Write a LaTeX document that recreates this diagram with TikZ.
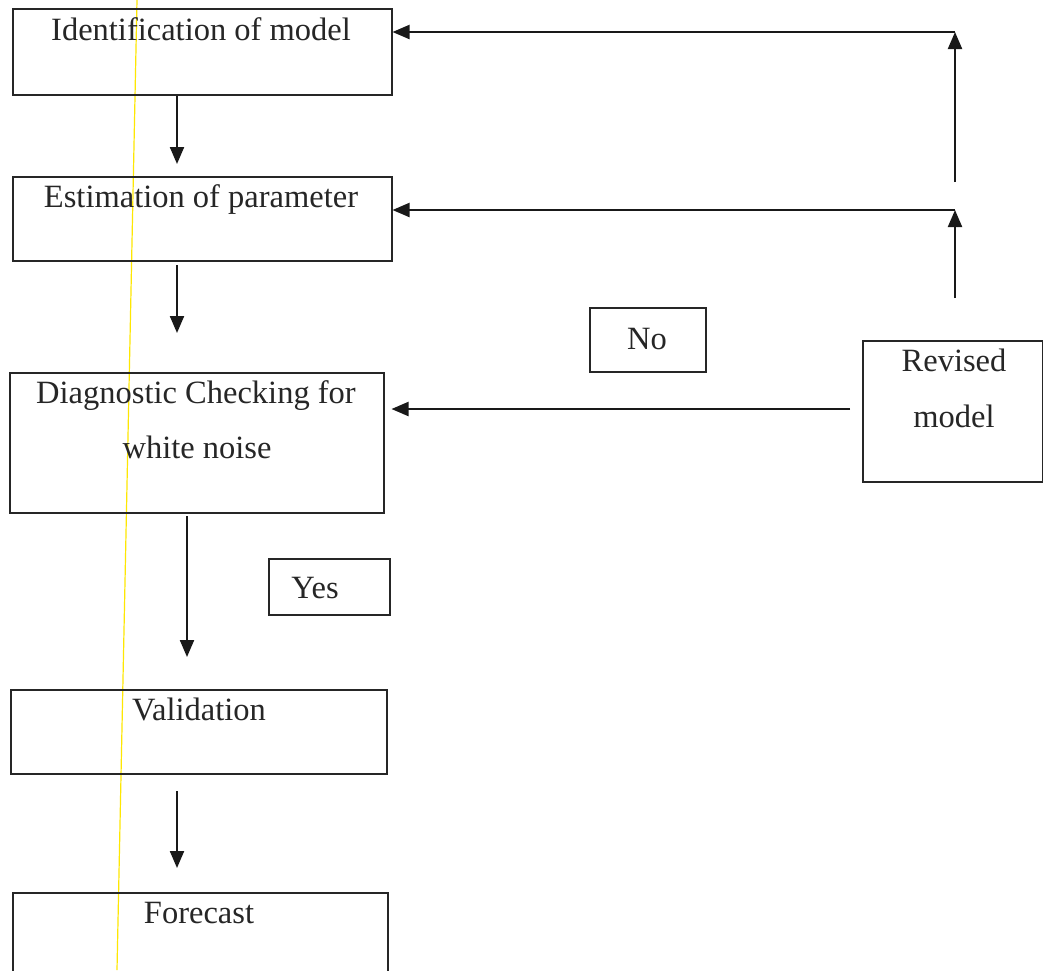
\documentclass[tikz,border=0pt]{standalone}
\usepackage{fontspec}
\setmainfont{Liberation Serif}
\usetikzlibrary{arrows.meta}
\begin{document}
\begin{tikzpicture}[x=1pt,y=-1pt,
  box/.style={draw=black!85, line width=1.5pt, rectangle, inner sep=0pt, anchor=north west},
  lbl/.style={anchor=base, inner sep=0pt, font=\fontsize{32.5}{38}\selectfont, text=black!85},
  arr/.style={draw=black!90, line width=2.1pt, -{Triangle[length=17pt,width=14pt]}},
  ln/.style={draw=black!90, line width=2.1pt}]
\clip (0,0) rectangle (1043,970);
\fill[white] (0,0) rectangle (1043,970);
% scan artifact line
\draw[yellow!90!orange, line width=1.2pt] (137,0) -- (117,970);
% boxes
\node[box, minimum width=379pt, minimum height=86pt] (b1) at (12,8) {};
\node[box, minimum width=379pt, minimum height=84pt] (b2) at (12,176) {};
\node[box, minimum width=374pt, minimum height=140pt] (b3) at (9,372) {};
\node[box, minimum width=376pt, minimum height=84pt] (b4) at (10,689) {};
\node[box, minimum width=375pt, minimum height=100pt] (b5) at (12,892) {};
\node[box, minimum width=116pt, minimum height=64pt] (no) at (589,307) {};
\node[box, minimum width=121pt, minimum height=56pt] (yes) at (268,558) {};
\node[box, minimum width=180pt, minimum height=141pt] (rev) at (862,340) {};
% labels
\node[lbl] (t1) at (201,40) {Identification of model};
\node[lbl] (t2) at (201,207) {Estimation of parameter};
\node[lbl] (t3a) at (196,403) {Diagnostic Checking for};
\node[lbl] (t3b) at (197,458) {white noise};
\node[lbl] (t4) at (199,720) {Validation};
\node[lbl] (t5) at (199,923) {Forecast};
\node[lbl] (tno) at (647,349) {No};
\node[lbl] (tyes) at (315,598) {Yes};
\node[lbl] (trev1) at (954,371) {Revised};
\node[lbl] (trev2) at (954,427) {model};
% connector end points
\coordinate (a1s) at (177,96);  \coordinate (a1e) at (177,164);
\coordinate (a2s) at (177,265); \coordinate (a2e) at (177,333);
\coordinate (a3s) at (187,516); \coordinate (a3e) at (187,657);
\coordinate (a4s) at (177,791); \coordinate (a4e) at (177,868);
\coordinate (r1s) at (955,298); \coordinate (r1e) at (955,210);
\coordinate (r2s) at (955,182); \coordinate (r2e) at (955,32);
\coordinate (hc) at (850,409);
% vertical flow
\draw[arr] (a1s) -- (a1e);
\draw[arr] (a2s) -- (a2e);
\draw[arr] (a3s) -- (a3e);
\draw[arr] (a4s) -- (a4e);
% feedback
\draw[arr] (r1s) -- (r1e);
\draw[arr] (r1e) -- (b2.east |- r1e);
\draw[arr] (r2s) -- (r2e);
\draw[arr] (r2e) -- (b1.east |- r2e);
\draw[arr] (hc) -- ([xshift=7pt]b3.east |- hc);
\end{tikzpicture}
\end{document}
